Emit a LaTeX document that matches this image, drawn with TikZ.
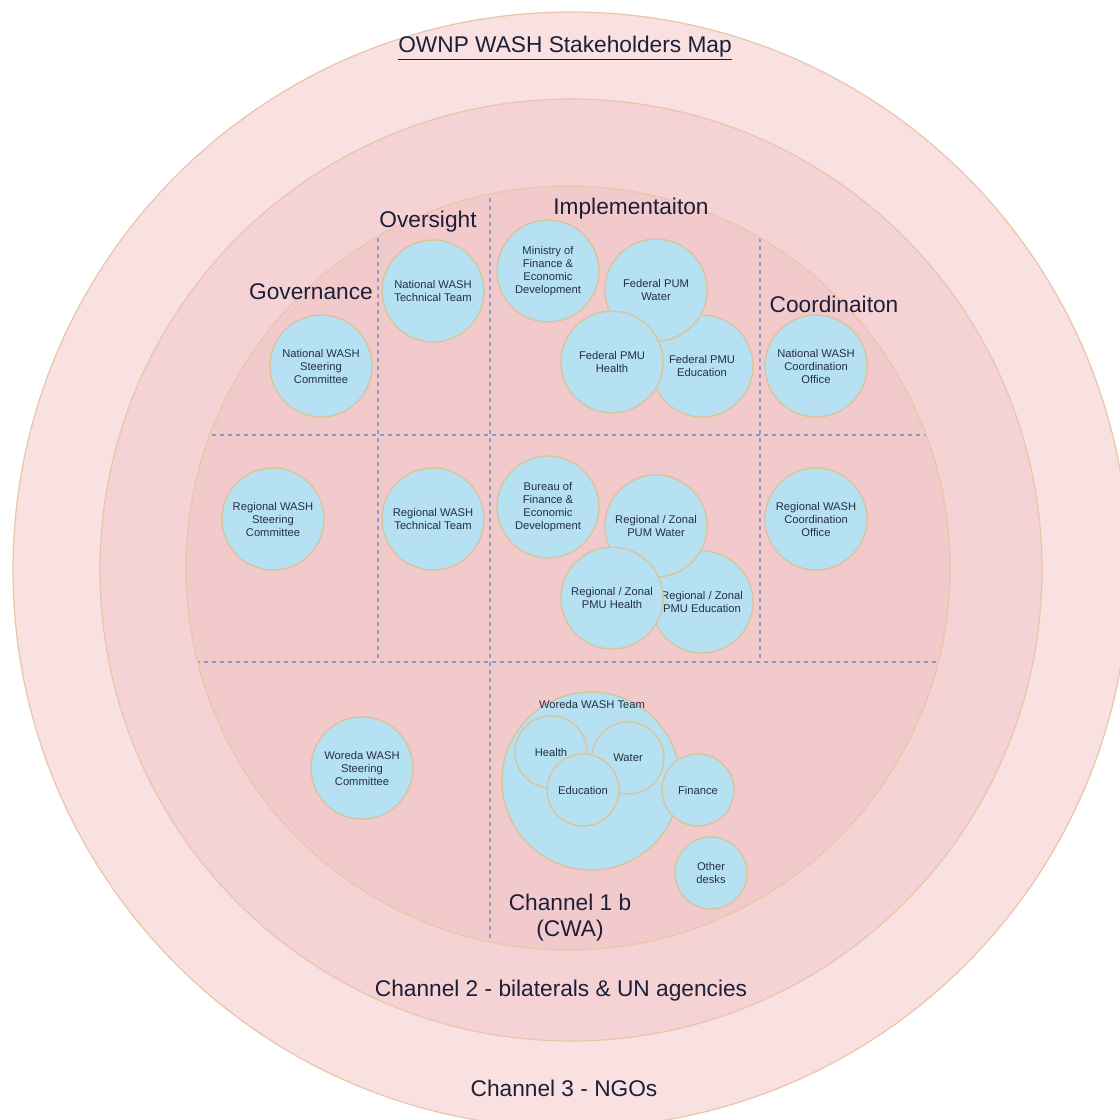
\documentclass[tikz,border=0pt]{standalone}
\usepackage{fontspec}
\setmainfont{Liberation Sans}
\definecolor{chThree}{HTML}{F9E1E1}
\definecolor{chTwo}{HTML}{F5D2D3}
\definecolor{chOne}{HTML}{F3CACC}
\definecolor{ringEdge}{HTML}{E8C6A6}
\definecolor{blobFill}{HTML}{B6E1F2}
\definecolor{blobEdge}{HTML}{D5C69E}
\definecolor{gridC}{HTML}{8C9CC0}
\definecolor{ink}{HTML}{1C1F3A}
\definecolor{inkSoft}{HTML}{263042}
\begin{document}
\begin{tikzpicture}[x=1pt,y=-1pt,
  ring/.style={circle, draw=ringEdge, line width=1.2pt, inner sep=0pt},
  blob/.style={circle, draw=blobEdge, fill=blobFill, line width=1.4pt,
    inner sep=0pt, minimum size=102pt, align=center, text=inkSoft,
    font=\fontsize{11.2}{13}\selectfont},
  desk/.style={blob, minimum size=72pt},
  heading/.style={text=ink, inner sep=0pt, align=center,
    font=\fontsize{22.7}{26}\selectfont},
  small/.style={text=inkSoft, inner sep=0pt, font=\fontsize{11.2}{13}\selectfont},
  grid/.style={draw=gridC, dash pattern=on 4pt off 4pt, line width=1.1pt}]
\useasboundingbox (0,0) rectangle (1120,1120);
\fill[white] (0,0) rectangle (1120,1120);

% concentric channel rings
\node[ring, fill=chThree, minimum size=1116pt] (ch3) at (571,570) {};
\node[ring, fill=chTwo, minimum size=942pt] (ch2) at (571,570) {};
\node[ring, fill=chOne, minimum size=764pt] (ch1) at (568,568) {};

% dashed level / role grid inside channel 1
\begin{scope}
  \clip (568,568) circle[radius=381];
  \draw[grid] (100,435) -- (1040,435);
  \draw[grid] (100,662) -- (1040,662);
  \draw[grid] (378,150) -- (378,662);
  \draw[grid] (490,150) -- (490,1000);
  \draw[grid] (760,150) -- (760,662);
\end{scope}

% federal level
\node[blob] (nsc) at (321,366) {National WASH\\Steering\\Committee};
\node[blob] (ntt) at (433,291) {National WASH\\Technical Team};
\node[blob] (mofed) at (548,271) {Ministry of\\Finance \&\\Economic\\Development};
\node[blob] (fedu) at (702,366) {Federal PMU\\Education};
\node[blob] (fwat) at (656,290) {Federal PUM\\Water};
\node[blob] (fhea) at (612,362) {Federal PMU\\Health};
\node[blob] (nco) at (816,366) {National WASH\\Coordination\\Office};

% regional level
\node[blob] (rsc) at (273,519) {Regional WASH\\Steering\\Committee};
\node[blob] (rtt) at (433,519) {Regional WASH\\Technical Team};
\node[blob] (bofed) at (548,507) {Bureau of\\Finance \&\\Economic\\Development};
\node[blob] (redu) at (702,602) {Regional / Zonal\\PMU Education};
\node[blob] (rwat) at (656,526) {Regional / Zonal\\PUM Water};
\node[blob] (rhea) at (612,598) {Regional / Zonal\\PMU Health};
\node[blob] (rco) at (816,519) {Regional WASH\\Coordination\\Office};

% woreda level
\node[blob] (wsc) at (362,768) {Woreda WASH\\Steering\\Committee};
\node[blob, minimum size=178pt] (wteam) at (591,781) {};
\node[small] (wteamlbl) at (592,704) {Woreda WASH Team};
\node[desk] (whea) at (551,752) {Health};
\node[desk] (wwat) at (628,758) {Water};
\node[desk] (wedu) at (583,790) {Education};
\node[desk] (wfin) at (698,790) {Finance};
\node[desk] (wother) at (711,873) {Other\\desks};

% headings
\node[heading] (title) at (565,48) {\underline{OWNP WASH Stakeholders Map}};
\node[heading] (gov) at (311,292) {Governance};
\node[heading] (ovs) at (428,222) {Oversight};
\node[heading] (impl) at (631,209) {Implementaiton};
\node[heading] (coord) at (834,304) {Coordinaiton};
\node[heading] (c1) at (570,918) {Channel 1 b\\(CWA)};
\node[heading] (c2) at (561,991) {Channel 2 - bilaterals \& UN agencies};
\node[heading] (c3) at (564,1088) {Channel 3 - NGOs};
\end{tikzpicture}
\end{document}
